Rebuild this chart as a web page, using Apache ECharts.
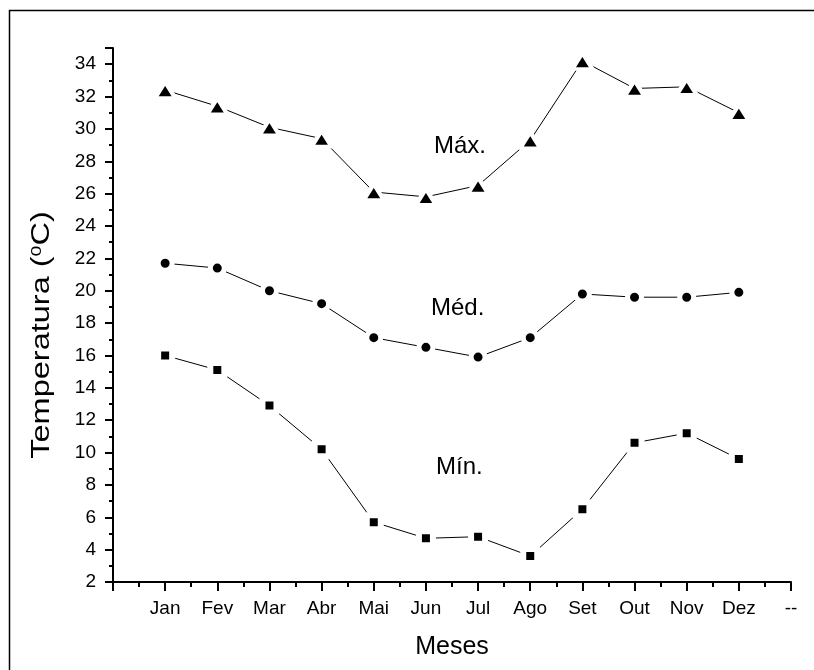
<!DOCTYPE html>
<html>
<head>
<meta charset="utf-8">
<script src="https://cdn.jsdelivr.net/npm/echarts@6/dist/echarts.min.js"></script>
<style>html,body{margin:0;padding:0;background:#fff;}#c{width:814px;height:670px;}</style>
</head>
<body>
<div id="c"></div>
<script>
const categories = ['', 'Jan', 'Fev', 'Mar', 'Abr', 'Mai', 'Jun', 'Jul', 'Ago', 'Set', 'Out', 'Nov', 'Dez', '--'];
const months = ['Jan', 'Fev', 'Mar', 'Abr', 'Mai', 'Jun', 'Jul', 'Ago', 'Set', 'Out', 'Nov', 'Dez'];
const maxVals = [32.4, 31.4, 30.1, 29.4, 26.1, 25.8, 26.5, 29.3, 34.2, 32.5, 32.6, 31.0];
const medVals = [21.7, 21.4, 20.0, 19.2, 17.1, 16.5, 15.9, 17.1, 19.8, 19.6, 19.6, 19.9];
const minVals = [16.0, 15.1, 12.9, 10.2, 5.7, 4.7, 4.8, 3.6, 6.5, 10.6, 11.2, 9.6];
const yTicks = [2, 4, 6, 8, 10, 12, 14, 16, 18, 20, 22, 24, 26, 28, 30, 32, 34];
const seriesNames = ['Máx.', 'Méd.', 'Mín.'];

const FONT = '"Liberation Sans", Arial, sans-serif';
function toPairs(vals) {
  return vals.map((v, i) => [categories.indexOf(months[i]), v]);
}
const chart = echarts.init(document.getElementById('c'), null, {renderer: 'canvas'});
const baseSeries = (name, vals, symbol, size, bw) => ({
  name: name,
  type: 'line',
  data: toPairs(vals),
  symbol: symbol,
  symbolSize: size,
  lineStyle: {color: '#000', width: 1},
  itemStyle: {color: '#000', borderColor: '#fff', borderWidth: bw, borderJoin: 'round'},
  emphasis: {disabled: true},
  animation: false
});
chart.setOption({
  animation: false,
  backgroundColor: '#fff',
  grid: {left: 113, right: 23, top: 48, bottom: 88, containLabel: false},
  xAxis: {
    type: 'value', min: 0, max: 13, interval: 1,
    name: 'Meses', nameLocation: 'middle', nameGap: 53,
    nameTextStyle: {fontFamily: FONT, fontSize: 25, color: '#000'},
    axisLine: {show: true, onZero: false, lineStyle: {color: '#000', width: 2}},
    axisTick: {show: true, length: 9, lineStyle: {color: '#000', width: 2}},
    minorTick: {show: true, splitNumber: 2, length: 5, lineStyle: {color: '#000', width: 2}},
    axisLabel: {
      fontFamily: FONT, fontSize: 19, color: '#000', margin: 17,
      formatter: v => categories[Math.round(v)] || ''
    },
    splitLine: {show: false},
    minorSplitLine: {show: false}
  },
  yAxis: {
    type: 'value', min: yTicks[0], max: 35, interval: 2,
    axisLine: {show: true, onZero: false, lineStyle: {color: '#000', width: 2}},
    axisTick: {show: true, length: 8, lineStyle: {color: '#000', width: 2}},
    minorTick: {show: true, splitNumber: 2, length: 4, lineStyle: {color: '#000', width: 2}},
    axisLabel: {
      fontFamily: FONT, fontSize: 19, color: '#000', margin: 17,
      showMaxLabel: false,
      formatter: v => (yTicks.indexOf(v) >= 0 ? String(v) : '')
    },
    splitLine: {show: false},
    minorSplitLine: {show: false}
  },
  graphic: [
    {type: 'rect', shape: {x: 9.5, y: 10.5, width: 900, height: 800}, style: {fill: 'none', stroke: '#000', lineWidth: 1.5}, z: 100, silent: true},
    {type: 'text', x: 42, y: 335, rotation: Math.PI / 2, scaleX: 1.3,
      style: {text: 'Temperatura ({s|0}C)', font: '25px ' + FONT, fill: '#000', align: 'center', verticalAlign: 'middle',
        rich: {s: {fontFamily: FONT, fontSize: 15, fill: '#000', padding: [0, 0, 11, 0]}}}},
    {type: 'text', left: 434, top: 134, style: {text: seriesNames[0], font: '24px ' + FONT, fill: '#000'}},
    {type: 'text', left: 431, top: 296, style: {text: seriesNames[1], font: '24px ' + FONT, fill: '#000'}},
    {type: 'text', left: 436, top: 455, style: {text: seriesNames[2], font: '24px ' + FONT, fill: '#000'}}
  ],
  series: [
    baseSeries(seriesNames[0], maxVals, 'triangle', [20, 16], 4),
    baseSeries(seriesNames[1], medVals, 'circle', 14, 5),
    baseSeries(seriesNames[2], minVals, 'rect', 14, 6)
  ]
});
</script>
</body>
</html>
